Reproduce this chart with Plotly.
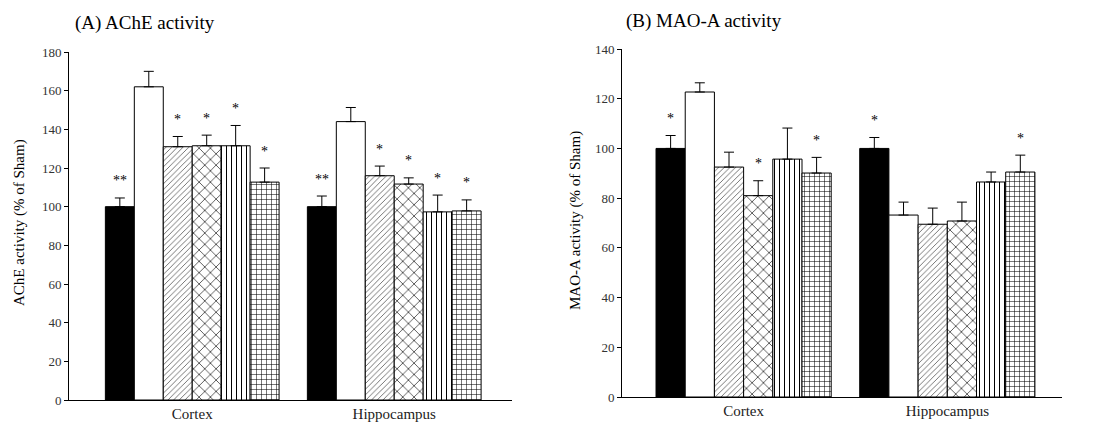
import plotly.graph_objects as go

# ---------------- data ----------------
regions = ["Cortex", "Hippocampus"]
groups = ["Sham", "Vehicle", "Treatment 1", "Treatment 2", "Treatment 3", "Treatment 4"]

ache_mean = {
    "Sham":        [100.0, 100.0],
    "Vehicle":     [162.0, 144.0],
    "Treatment 1": [131.0, 116.0],
    "Treatment 2": [131.5, 111.7],
    "Treatment 3": [131.5, 97.3],
    "Treatment 4": [112.7, 97.8],
}
ache_sem = {
    "Sham":        [4.5, 5.5],
    "Vehicle":     [8.0, 7.3],
    "Treatment 1": [5.3, 5.0],
    "Treatment 2": [5.5, 3.2],
    "Treatment 3": [10.5, 8.7],
    "Treatment 4": [7.3, 5.7],
}
ache_sig = {
    "Sham":        ["**", "**"],
    "Vehicle":     ["", ""],
    "Treatment 1": ["*", "*"],
    "Treatment 2": ["*", "*"],
    "Treatment 3": ["*", "*"],
    "Treatment 4": ["*", "*"],
}

mao_mean = {
    "Sham":        [100.0, 100.0],
    "Vehicle":     [122.7, 73.2],
    "Treatment 1": [92.5, 69.5],
    "Treatment 2": [81.0, 70.8],
    "Treatment 3": [95.7, 86.5],
    "Treatment 4": [90.1, 90.5],
}
mao_sem = {
    "Sham":        [5.2, 4.4],
    "Vehicle":     [3.7, 5.2],
    "Treatment 1": [6.0, 6.5],
    "Treatment 2": [6.0, 7.6],
    "Treatment 3": [12.5, 4.0],
    "Treatment 4": [6.3, 6.8],
}
mao_sig = {
    "Sham":        ["*", "*"],
    "Vehicle":     ["", ""],
    "Treatment 1": ["", ""],
    "Treatment 2": ["*", ""],
    "Treatment 3": ["", ""],
    "Treatment 4": ["*", "*"],
}

y_ticks_a = [0, 20, 40, 60, 80, 100, 120, 140, 160, 180]
y_ticks_b = [0, 20, 40, 60, 80, 100, 120, 140]

# ---------------- styles ----------------
styles = {
    "Sham":        dict(color="black", pattern=None),
    "Vehicle":     dict(color="white", pattern=None),
    "Treatment 1": dict(color="white", pattern="/"),
    "Treatment 2": dict(color="white", pattern="x"),
    "Treatment 3": dict(color="white", pattern="|"),
    "Treatment 4": dict(color="white", pattern="+"),
}
pat_size = {"/": 4, "x": 8, "|": 5, "+": 5}
pat_sol = {"/": 0.2, "x": 0.15, "|": 0.2, "+": 0.2}
pat_col = {"/": "#555", "x": "black", "|": "black", "+": "black"}

FONT = "Liberation Serif"
BARGAP = 0.14
# the page body has an 8px margin: figure is drawn offset by (8, 8)
OFF = 8
W = 1105 - OFF
H = 430 - OFF


def px_x(p):
    return (p - OFF) / W


def px_y(p):
    return 1 - (p - OFF) / H


fig = go.Figure()
xpos = list(range(len(regions)))


def add_panel(means, sems, sigs, xa, ya):
    n = len(groups)
    bw = (1 - BARGAP) / n
    for i, g in enumerate(groups):
        st = styles[g]
        marker = dict(color=st["color"], line=dict(color="black", width=1))
        if st["pattern"]:
            p = st["pattern"]
            marker["pattern"] = dict(shape=p, fgcolor=pat_col[p], bgcolor="white",
                                     size=pat_size[p], solidity=pat_sol[p])
        fig.add_trace(go.Bar(
            x=xpos, y=means[g], name=g, marker=marker,
            error_y=dict(type="data", symmetric=False, array=sems[g],
                         arrayminus=[0] * len(regions), color="black",
                         thickness=1, width=5),
            xaxis=xa, yaxis=ya, showlegend=False, offsetgroup=str(i),
        ))
        for j in range(len(regions)):
            if sigs[g][j]:
                fig.add_annotation(
                    x=xpos[j] + (i - (n - 1) / 2) * bw,
                    y=means[g][j] + sems[g][j],
                    xref=xa, yref=ya, text=sigs[g][j], showarrow=False,
                    yanchor="middle", yshift=17,
                    font=dict(family=FONT, size=14, color="black"))


add_panel(ache_mean, ache_sem, ache_sig, "x", "y")
add_panel(mao_mean, mao_sem, mao_sig, "x2", "y2")

axis_common = dict(showline=True, linecolor="black", linewidth=1, showgrid=False,
                   zeroline=False, automargin=False,
                   tickfont=dict(family=FONT, size=13, color="#333"))
xfont = dict(family=FONT, size=15, color="#222")

fig.update_layout(
    template="none",
    width=W, height=H, margin=dict(l=0, r=0, t=0, b=0, pad=0),
    plot_bgcolor="white", paper_bgcolor="white",
    barmode="group", bargap=BARGAP, bargroupgap=0,
    xaxis=dict(domain=[px_x(69), px_x(512)], range=[-0.61, 1.583], anchor="y",
               tickvals=xpos, ticktext=regions, ticks="",
               **{**axis_common, "tickfont": xfont}),
    yaxis=dict(domain=[px_y(400), px_y(52)], range=[0, 180], anchor="x",
               tickvals=y_ticks_a, ticks="outside", ticklen=4, tickcolor="black",
               **axis_common),
    xaxis2=dict(domain=[px_x(622), px_x(1062)], range=[-0.597, 1.563], anchor="y2",
                tickvals=xpos, ticktext=regions, ticks="",
                **{**axis_common, "tickfont": xfont}),
    yaxis2=dict(domain=[px_y(397), px_y(49)], range=[0, 140], anchor="x2",
                tickvals=y_ticks_b, ticks="outside", ticklen=4, tickcolor="black",
                **axis_common),
)

# titles
fig.add_annotation(x=px_x(73), y=px_y(23), xref="paper", yref="paper",
                   text="(A) AChE activity", showarrow=False, xanchor="left",
                   yanchor="middle", font=dict(family=FONT, size=19, color="black"))
fig.add_annotation(x=px_x(624), y=px_y(21), xref="paper", yref="paper",
                   text="(B) MAO-A activity", showarrow=False, xanchor="left",
                   yanchor="middle", font=dict(family=FONT, size=19, color="black"))
# y-axis titles
fig.add_annotation(x=px_x(19), y=px_y(223), xref="paper", yref="paper",
                   text="AChE activity (% of Sham)", showarrow=False, textangle=-90,
                   xanchor="center", yanchor="middle",
                   font=dict(family=FONT, size=15, color="black"))
fig.add_annotation(x=px_x(575), y=px_y(221), xref="paper", yref="paper",
                   text="MAO-A activity (% of Sham)", showarrow=False, textangle=-90,
                   xanchor="center", yanchor="middle",
                   font=dict(family=FONT, size=15, color="black"))

fig.write_html("out.html")
